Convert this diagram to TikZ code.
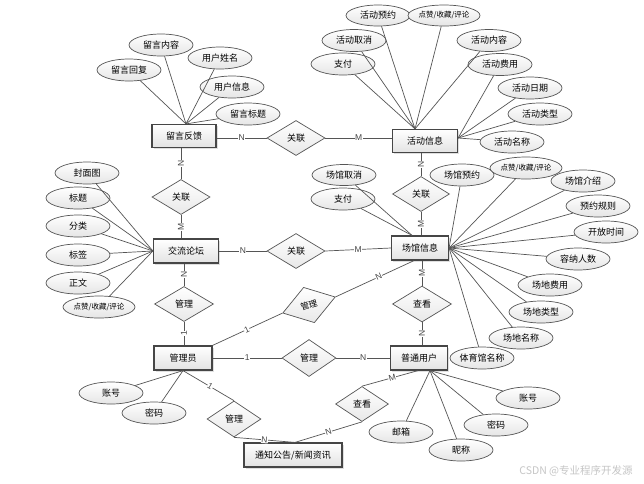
\documentclass[tikz,border=0pt]{standalone}
\usepackage{fontspec}
\newfontfamily\cjk{Noto Sans CJK SC}
\newfontfamily\lab{Liberation Sans}
\usetikzlibrary{shapes.geometric,shadows}
\definecolor{ln}{RGB}{85,85,85}
\definecolor{bd}{RGB}{70,70,70}
\begin{document}
\begin{tikzpicture}[x=1pt,y=-1pt,
  ent/.style={rectangle,draw=bd,line width=1.2pt,minimum width=64pt,minimum height=23pt,inner sep=0pt,
    top color=white,bottom color=gray!22,font=\cjk\fontsize{9}{10}\selectfont,
    drop shadow={shadow xshift=1.5pt,shadow yshift=-1.5pt,opacity=0.25}},
  attr/.style={ellipse,draw=ln,line width=0.7pt,minimum width=64pt,minimum height=22pt,inner sep=0pt,
    top color=white,bottom color=gray!20,font=\cjk\fontsize{9}{10}\selectfont},
  small/.style={font=\cjk\fontsize{7.5}{8}\selectfont},
  rel/.style={diamond,draw=ln,line width=0.7pt,minimum width=58pt,minimum height=35pt,inner sep=0pt,
    top color=white,bottom color=gray!18,font=\cjk\fontsize{9}{10}\selectfont},
  conn/.style={draw=ln,line width=0.7pt},
  card/.style={font=\lab\fontsize{8.5}{9}\selectfont,fill=white,inner sep=0.4pt,text=bd}]
\useasboundingbox[fill=white] (0,0) rectangle (644,483);

% entities
\node[ent] (fb) at (184,136) {留言反馈};
\node[ent,minimum width=65pt] (act) at (425,141) {活动信息};
\node[ent,minimum width=65pt,minimum height=24pt] (forum) at (186,251) {交流论坛};
\node[ent,minimum width=57pt,minimum height=24pt] (venue) at (420,248) {场馆信息};
\node[ent,minimum width=58pt,minimum height=24pt] (admin) at (183,358) {管理员};
\node[ent,minimum width=57pt,minimum height=24pt] (user) at (419,358) {普通用户};
\node[ent,minimum width=98pt,minimum height=24pt] (notice) at (293,455) {通知公告/新闻资讯};

% relations
\node[rel] (r1) at (296,138) {关联};
\node[rel] (r2) at (181,197) {关联};
\node[rel,minimum width=57pt] (r3) at (421,194) {关联};
\node[rel] (r4) at (296,251) {关联};
\node[rel,minimum width=59pt] (r5) at (184,304) {管理};
\node[rel,minimum width=55pt,minimum height=37pt,rotate=17,font=\cjk\fontsize{8.5}{9}\selectfont] (r6) at (309,305) {管理};
\node[rel,minimum width=59pt,minimum height=36pt] (r7) at (422,304) {查看};
\node[rel,minimum width=54pt,minimum height=37pt] (r8) at (309,358) {管理};
\node[rel,minimum width=54pt,minimum height=36pt] (r9) at (234,419) {管理};
\node[rel,minimum width=53pt,minimum height=35pt] (r10) at (362,404) {查看};

% relation connectors
\draw[conn] (r1.west -| fb.east) -- node[card]{N} (r1.west);
\draw[conn] (r1.east) -- node[card]{M} (r1.east -| act.west);
\draw[conn] (r2.north |- fb.south) -- node[card,rotate=90]{N} (r2.north);
\draw[conn] (r2.south) -- node[card,rotate=90]{M} (r2.south |- forum.north);
\draw[conn] (r3.north |- act.south) -- node[card,rotate=90]{N} (r3.north);
\draw[conn] (r3.south) -- node[card,rotate=90]{M} (r3.south |- venue.north);
\draw[conn] (forum.east) -- node[card]{N} (r4.west);
\draw[conn] (r4.east) -- node[card]{M} (venue.west);
\draw[conn] (r5.north |- forum.south) -- node[card,rotate=90]{N} (r5.north);
\draw[conn] (r5.south) -- node[card,rotate=90]{1} (r5.south |- admin.north);
\draw[conn] (r7.north |- venue.south) -- node[card,rotate=90]{M} (r7.north);
\draw[conn] (r7.south) -- node[card,rotate=90]{N} (r7.south |- user.north);
\draw[conn] (admin.east) -- node[card]{1} (r8.west);
\draw[conn] (r8.east) -- node[card]{N} (user.west);
\draw[conn] (admin.north east) -- node[card,sloped,pos=0.49]{1} (r6.west);
\draw[conn] (r6.east) -- node[card,sloped,pos=0.55]{N} ([xshift=-6pt]venue.south);
\draw[conn] (admin.south) -- node[card,sloped,pos=0.53]{1} (r9.north);
\draw[conn] (r9.south) -- node[card,sloped]{N} ([xshift=2pt]notice.north);
\draw[conn] ([xshift=-1pt]user.south) -- node[card,sloped,pos=0.46]{M} (r10.north);
\draw[conn] (r10.south) -- node[card,sloped]{N} ([xshift=2pt]notice.north);

% 留言反馈 attributes
\node[attr] (a1) at (161,45) {留言内容};
\node[attr] (a2) at (220,58) {用户姓名};
\node[attr] (a3) at (129,70) {留言回复};
\node[attr] (a4) at (232,87) {用户信息};
\node[attr] (a5) at (248,114) {留言标题};
\foreach \n in {a1,a2,a3,a4,a5} \draw[conn] (\n) -- ([xshift=2pt]fb.north);

% 活动信息 attributes
\node[attr,minimum height=21pt] (b1) at (378,15.5) {活动预约};
\node[attr,minimum height=21pt,small] (b2) at (444,15.5) {点赞/收藏/评论};
\node[attr] (b3) at (354,40.5) {活动取消};
\node[attr] (b4) at (489,40.5) {活动内容};
\node[attr] (b5) at (343,64) {支付};
\node[attr] (b6) at (500,64.5) {活动费用};
\node[attr] (b7) at (530,88) {活动日期};
\node[attr] (b8) at (540,114) {活动类型};
\node[attr] (b9) at (512,142) {活动名称};
\foreach \n in {b1,b2,b3,b4,b5} \draw[conn] (\n) -- ([xshift=-10pt]act.north);
\foreach \n in {b6,b7,b8,b9} \draw[conn] (\n) -- ([yshift=3pt]act.east);

% 交流论坛 attributes
\node[attr] (c1) at (87,173) {封面图};
\node[attr] (c2) at (78,198) {标题};
\node[attr] (c3) at (78,226) {分类};
\node[attr] (c4) at (78,255) {标签};
\node[attr] (c5) at (78,283) {正文};
\node[attr,small] (c6) at (99,307) {点赞/收藏/评论};
\foreach \n in {c1,c2,c3,c4,c5,c6} \draw[conn] (\n) -- (forum.west);

% 场馆信息 attributes
\node[attr,minimum height=21pt] (d1) at (344,175) {场馆取消};
\node[attr] (d2) at (343,199) {支付};
\node[attr] (d3) at (462,175) {场馆预约};
\node[attr,small] (d4) at (526,168) {点赞/收藏/评论};
\node[attr] (d5) at (583,181) {场馆介绍};
\node[attr] (d6) at (598,206) {预约规则};
\node[attr] (d7) at (606,232) {开放时间};
\node[attr] (d8) at (578,259) {容纳人数};
\node[attr] (d9) at (550,285) {场地费用};
\node[attr] (d10) at (541,312) {场地类型};
\node[attr] (d11) at (521,338) {场地名称};
\node[attr] (d12) at (482,358) {体育馆名称};
\foreach \n in {d1,d2} \draw[conn] (\n) -- ([xshift=-8pt]venue.north);
\foreach \n in {d3,d4,d5,d6,d7,d8,d9,d10,d11,d12} \draw[conn] (\n) -- (venue.east);

% 普通用户 attributes
\node[attr] (e1) at (528,398) {账号};
\node[attr] (e2) at (496,425) {密码};
\node[attr] (e3) at (401,432) {邮箱};
\node[attr] (e4) at (461,450) {昵称};
\foreach \n in {e1,e2,e3,e4} \draw[conn] (\n) -- ([xshift=11pt]user.south);

% 管理员 attributes
\node[attr] (f1) at (111,393) {账号};
\node[attr] (f2) at (154,413) {密码};
\foreach \n in {f1,f2} \draw[conn] (\n) -- (admin.south);

% watermark
\node[font=\cjk\fontsize{10.5}{11}\selectfont,text=gray!45] (wm) at (576,471) {CSDN @专业程序开发源};
\end{tikzpicture}
\end{document}
